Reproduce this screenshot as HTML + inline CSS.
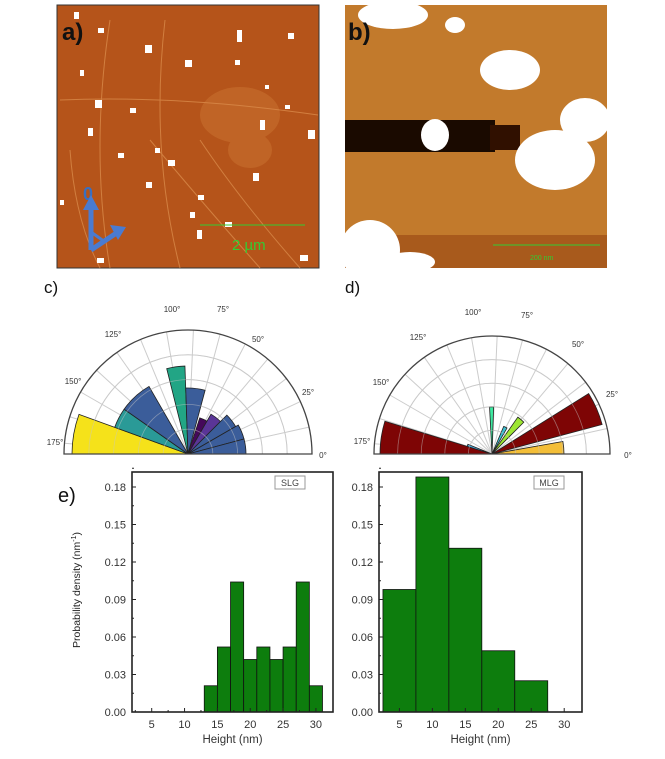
<!DOCTYPE html>
<html><head><meta charset="utf-8"><style>
body{margin:0;background:#fff;width:665px;height:754px;overflow:hidden}
text{font-family:"Liberation Sans",sans-serif}
</style></head><body>
<svg id="s" width="665" height="754" viewBox="0 0 665 754" xmlns="http://www.w3.org/2000/svg">
<!-- image a -->
<rect x="57" y="5" width="262" height="263" fill="#b5541a" stroke="#333"/>
<g fill="#c8702e" opacity="0.6">
<ellipse cx="240" cy="115" rx="40" ry="28"/><ellipse cx="250" cy="150" rx="22" ry="18"/>
</g>
<g stroke="#d98a4a" stroke-width="1" fill="none" opacity="0.8">
<path d="M60 100 Q180 95 318 115"/><path d="M110 20 Q90 150 110 268"/><path d="M165 20 Q150 150 180 268"/>
<path d="M150 140 Q200 200 260 268"/><path d="M200 140 Q240 200 300 268"/><path d="M70 150 Q75 220 100 268"/>
</g>
<g fill="#fff">
<rect x="74" y="12" width="5" height="7"/><rect x="98" y="28" width="6" height="5"/><rect x="145" y="45" width="7" height="8"/>
<rect x="237" y="30" width="5" height="12"/><rect x="288" y="33" width="6" height="6"/><rect x="185" y="60" width="7" height="7"/>
<rect x="95" y="100" width="7" height="8"/><rect x="130" y="108" width="6" height="5"/><rect x="265" y="85" width="4" height="4"/>
<rect x="285" y="105" width="5" height="4"/><rect x="88" y="128" width="5" height="8"/><rect x="168" y="160" width="7" height="6"/>
<rect x="118" y="153" width="6" height="5"/><rect x="260" y="120" width="5" height="10"/><rect x="253" y="173" width="6" height="8"/>
<rect x="308" y="130" width="7" height="9"/><rect x="146" y="182" width="6" height="6"/><rect x="198" y="195" width="6" height="5"/>
<rect x="190" y="212" width="5" height="6"/><rect x="225" y="222" width="7" height="5"/><rect x="197" y="230" width="5" height="9"/>
<rect x="97" y="258" width="7" height="5"/><rect x="300" y="255" width="8" height="6"/><rect x="235" y="60" width="5" height="5"/>
<rect x="80" y="70" width="4" height="6"/><rect x="155" y="148" width="5" height="5"/><rect x="60" y="200" width="4" height="5"/>
</g>
<line x1="200" y1="225" x2="305" y2="225" stroke="#3c3" stroke-width="1"/>
<text x="232" y="250" font-size="15" fill="#3c3">2 µm</text>
<text x="62" y="40" font-size="24" font-weight="bold" fill="#111">a)</text>
<text x="83" y="200" font-size="18" font-weight="bold" fill="#3a6fc0" font-family="Liberation Serif">0</text>
<g stroke="#4a7bd0" stroke-width="5" fill="#4a7bd0">
<line x1="91" y1="250" x2="91" y2="205"/><path d="M83 210 L91 195 L99 210Z" stroke="none"/>
<line x1="91" y1="250" x2="118" y2="232"/><path d="M110 225 L126 227 L118 240Z" stroke="none"/>
<line x1="91" y1="232" x2="105" y2="242" stroke-width="3"/>
</g>
<!-- image b -->
<rect x="345" y="5" width="262" height="263" fill="#c27a2c"/>
<rect x="345" y="120" width="150" height="32" fill="#1a0a00"/>
<rect x="490" y="125" width="30" height="25" fill="#301000"/>
<rect x="345" y="235" width="262" height="33" fill="#a85a1c"/>
<g fill="#fff">
<ellipse cx="393" cy="15" rx="35" ry="14"/><ellipse cx="510" cy="70" rx="30" ry="20"/>
<ellipse cx="435" cy="135" rx="14" ry="16"/><ellipse cx="555" cy="160" rx="40" ry="30"/>
<ellipse cx="585" cy="120" rx="25" ry="22"/><ellipse cx="370" cy="250" rx="30" ry="30"/>
<ellipse cx="410" cy="262" rx="25" ry="10"/><ellipse cx="455" cy="25" rx="10" ry="8"/>
</g>
<line x1="493" y1="245" x2="600" y2="245" stroke="#3c3" stroke-width="1"/>
<text x="530" y="260" font-size="7" fill="#3c3">200 nm</text>
<text x="348" y="40" font-size="24" font-weight="bold" fill="#111">b)</text>
<!-- section labels -->
<text x="44" y="293" font-size="17" fill="#111">c)</text>
<text x="345" y="293" font-size="17" fill="#111">d)</text>
<text x="58" y="502" font-size="20" fill="#111">e)</text>
<g id="polar"></g>
<g id="hist"></g>
<text transform="translate(80 590) rotate(-90)" font-size="10.5" fill="#222" text-anchor="middle">Probability density (nm<tspan dy="-4" font-size="7">-1</tspan><tspan dy="4">)</tspan></text>
</svg>
<script>
var NS="http://www.w3.org/2000/svg",P=document.getElementById('polar'),H=document.getElementById('hist');
function el(p,t,a){var e=document.createElementNS(NS,t);for(var k in a)e.setAttribute(k,a[k]);p.appendChild(e);return e;}
function wedge(cx,cy,a1,a2,r,f){var d=Math.PI/180;var x1=cx+r*Math.cos(a1*d),y1=cy-r*Math.sin(a1*d),x2=cx+r*Math.cos(a2*d),y2=cy-r*Math.sin(a2*d);
el(P,'path',{d:'M'+cx+' '+cy+'L'+x1+' '+y1+'A'+r+' '+r+' 0 0 0 '+x2+' '+y2+'Z',fill:f,stroke:'#222','stroke-width':0.8});}
function polar(cx,cy,R,bars,labels){
 for(var i=1;i<=4;i++){var r=R*i/5;el(P,'path',{d:'M'+(cx-r)+' '+cy+'A'+r+' '+r+' 0 0 1 '+(cx+r)+' '+cy,fill:'none',stroke:'#ccc','stroke-width':1});}
 for(var a=0;a<=180;a+=12.5){var d=a*Math.PI/180;el(P,'line',{x1:cx,y1:cy,x2:cx+R*Math.cos(d),y2:cy-R*Math.sin(d),stroke:'#ccc','stroke-width':1});}
 bars.forEach(function(b){wedge(cx,cy,b[0],b[1],b[2],b[3]);});
 for(var i=1;i<=4;i++){var r=R*i/5;el(P,'path',{d:'M'+(cx-r)+' '+cy+'A'+r+' '+r+' 0 0 1 '+(cx+r)+' '+cy,fill:'none',stroke:'rgba(200,200,200,0.5)','stroke-width':0.8});}
 el(P,'path',{d:'M'+(cx-R)+' '+cy+'A'+R+' '+R+' 0 0 1 '+(cx+R)+' '+cy+'Z',fill:'none',stroke:'#444','stroke-width':1.3});
 labels.forEach(function(l){var t=el(P,'text',{x:l[1],y:l[2],'font-size':8,fill:'#333','text-anchor':'middle'});t.textContent=l[0];});
}
var B='#3b5d9a';
polar(188,454,124,[[160,180,116,'#f5e21a'],[145,160,78,'#2a9a97'],[120,145,78,B],[92,104,88,'#22a585'],[75,92,66,B],
 [60,72,38,'#45085a'],[45,60,46,'#5a3597'],[30,45,55,B],[15,30,58,B],[0,15,58,B]],
 [['100°',172,312],['75°',223,312],['50°',258,342],['25°',308,395],['0°',323,458],['175°',55,445],['150°',73,384],['125°',113,337]]);
polar(492,454,118,[[163,180,112,'#7e0505'],[158,163,26,'#49a7d8'],[88,93,47,'#3ee8a0'],[60,67,30,'#3bc0d0'],[45,55,45,'#9de632'],
 [15,32,114,'#7e0505'],[0,10,72,'#f3be38']],
 [['100°',473,315],['75°',527,318],['50°',578,347],['25°',612,397],['0°',628,458],['175°',362,444],['150°',381,385],['125°',418,340]]);
function hist(x0,x1,xa,xb,bars,w,lab,labx){
 var top=472,y0=712,ys=37.5/0.03;
 function X(v){return x0+(v-xa)/(xb-xa)*(x1-x0);}
 bars.forEach(function(b){el(H,'rect',{x:X(b[0]),y:y0-b[1]*ys,width:X(b[0]+w)-X(b[0]),height:b[1]*ys,fill:'#0d7d0d',stroke:'#111','stroke-width':0.8});});
 el(H,'rect',{x:x0,y:top,width:x1-x0,height:y0-top,fill:'none',stroke:'#222','stroke-width':1.6});
 for(var v=0;v<=0.1801;v+=0.03){var y=y0-v*ys;el(H,'line',{x1:x0,y1:y,x2:x0+4,y2:y,stroke:'#222'});
  el(H,'line',{x1:x0,y1:y-18.75,x2:x0+2,y2:y-18.75,stroke:'#222'});
  var t=el(H,'text',{x:x0-6,y:y+4,'font-size':11,fill:'#333','text-anchor':'end'});t.textContent=v.toFixed(2);}
 for(var v=5;v<=30;v+=5){var x=X(v);el(H,'line',{x1:x,y1:y0,x2:x,y2:y0-4,stroke:'#222'});el(H,'line',{x1:X(v-2.5),y1:y0,x2:X(v-2.5),y2:y0-2,stroke:'#222'});
  var t=el(H,'text',{x:x,y:y0+16,'font-size':11,fill:'#333','text-anchor':'middle'});t.textContent=v;}
 var t=el(H,'text',{x:(x0+x1)/2,y:y0+31,'font-size':11.5,fill:'#333','text-anchor':'middle'});t.textContent='Height (nm)';
 el(H,'rect',{x:labx-15,y:476,width:30,height:13,fill:'#fff',stroke:'#999'});
 t=el(H,'text',{x:labx,y:486,'font-size':9,fill:'#444','text-anchor':'middle'});t.textContent=lab;
}
hist(132,333,2,32.6,[[13,.021],[15,.052],[17,.104],[19,.042],[21,.052],[23,.042],[25,.052],[27,.104],[29,.021]],2,'SLG',290);
hist(379,582,1.9,32.7,[[2.5,.098],[7.5,.188],[12.5,.131],[17.5,.049],[22.5,.025]],5,'MLG',549);
</script>
</body></html>
